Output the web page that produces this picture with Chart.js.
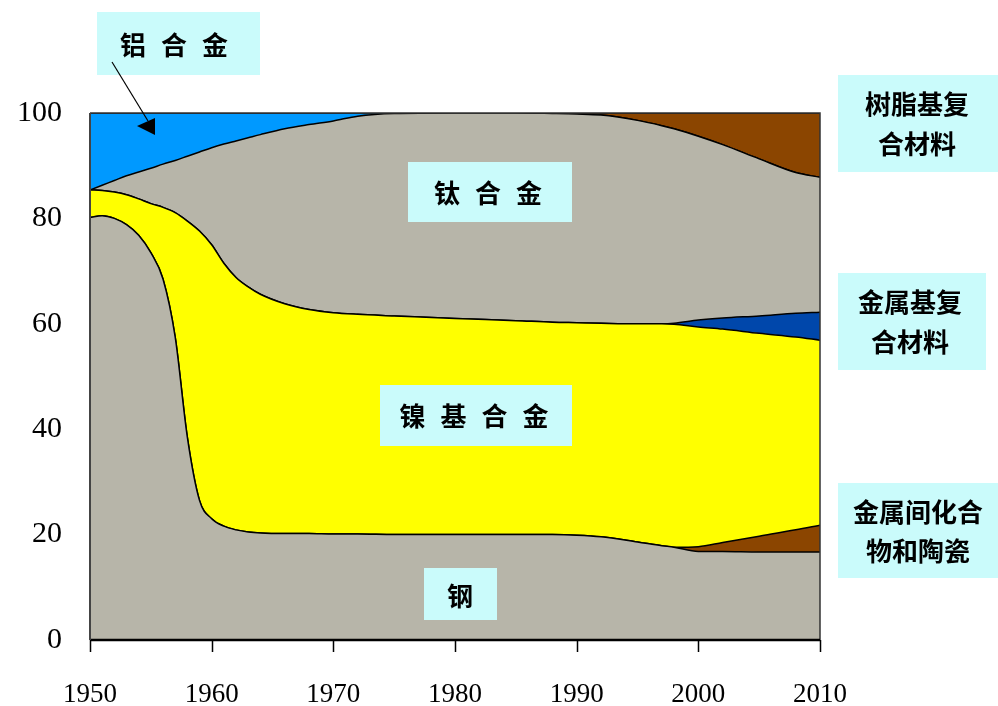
<!DOCTYPE html>
<html>
<head>
<meta charset="utf-8">
<script src="https://cdn.jsdelivr.net/npm/chart.js@4/dist/chart.umd.min.js"></script>
<style>
  html, body { margin: 0; padding: 0; background: #ffffff; }
  #wrap { position: relative; width: 998px; height: 706px; }
</style>
</head>
<body>
<div id="wrap"><canvas id="c" width="998" height="706"></canvas></div>
<script>
// ---- data (shares, %, stacked bottom -> top) ----
const years = [1950,1951,1952,1953,1954,1955,1956,1957,1958,1959,1960,1961,1962,1963,1964,1966,1968,1970,1972,1975,1980,1985,1988,1990,1992,1995,1997,1998,2000,2002,2005,2008,2010];
const steel = [80.2,80.5,80.0,78.8,76.8,73.5,68.5,57.5,38.5,26.5,23.0,21.6,20.9,20.5,20.3,20.2,20.2,20.1,20.1,20.0,20.0,20.0,20.0,19.9,19.6,18.6,17.9,17.6,16.8,16.8,16.7,16.7,16.7];
const intermetallic = [0,0,0,0,0,0,0,0,0,0,0,0,0,0,0,0,0,0,0,0,0,0,0,0,0,0,0,0,0.9,1.7,3.0,4.2,5.1];
const nickel = [5.2,4.8,5.0,5.7,6.9,9.3,13.6,23.6,41.0,51.1,52.0,49.9,47.9,46.5,45.3,43.6,42.5,42.0,41.7,41.5,41.0,40.6,40.3,40.3,40.5,41.4,42.1,42.3,41.7,40.5,38.5,36.6,35.1];
const metalMatrix = [0,0,0,0,0,0,0,0,0,0,0,0,0,0,0,0,0,0,0,0,0,0,0,0,0,0,0,0.2,1.3,2.1,3.3,4.5,5.3];
const titanium = [0,1.0,2.2,3.6,5.1,6.7,8.2,9.9,12.3,15.0,18.4,22.6,25.9,28.3,30.3,33.2,35.1,36.4,37.6,38.4,39.0,39.4,39.6,39.6,39.5,38.6,37.6,36.9,34.9,32.9,29.8,26.7,25.6];
const aluminum = [14.6,13.7,12.8,11.9,11.2,10.5,9.7,9.0,8.2,7.4,6.6,5.9,5.3,4.7,4.1,3.0,2.2,1.5,0.6,0.1,0,0,0,0,0,0,0,0,0,0,0,0,0];
const resin = [0,0,0,0,0,0,0,0,0,0,0,0,0,0,0,0,0,0,0,0,0,0,0.1,0.2,0.4,1.4,2.4,3.0,4.4,6.0,8.7,11.3,12.2];
const xTicks = [1950,1960,1970,1980,1990,2000,2010];
const yTicks = [0,20,40,60,80,100];

const GRAY = '#B7B5A9';
const BROWN = '#8B4500';
const YELLOW = '#FFFF00';
const DBLUE = '#0047AB';
const LBLUE = '#0099FF';
const CYAN = '#CAFBFB';

function ds(label, vals, color, fill) {
  return {
    label: label,
    data: years.map((y, i) => ({ x: y, y: vals[i] })),
    backgroundColor: color,
    borderColor: '#000000',
    borderWidth: 1.5,
    pointRadius: 0,
    fill: fill,
    cubicInterpolationMode: 'monotone'
  };
}

const annotations = {
  id: 'annotations',
  afterDraw(chart) {
    const ctx = chart.ctx;
    const a = chart.chartArea;
    const xs = chart.scales.x;
    ctx.save();
    // plot frame
    ctx.strokeStyle = '#333333';
    ctx.lineWidth = 1.5;
    ctx.beginPath();
    ctx.moveTo(a.left, a.top); ctx.lineTo(a.right, a.top); ctx.lineTo(a.right, a.bottom);
    ctx.stroke();
    ctx.strokeStyle = '#000000';
    ctx.lineWidth = 2.5;
    ctx.beginPath();
    ctx.moveTo(a.left, a.bottom); ctx.lineTo(a.right, a.bottom);
    ctx.stroke();
    // x tick marks
    ctx.lineWidth = 1.5;
    ctx.beginPath();
    xTicks.forEach(v => {
      const px = Math.round(xs.getPixelForValue(v)) + 0.5;
      ctx.moveTo(px, a.bottom); ctx.lineTo(px, a.bottom + 12);
    });
    ctx.stroke();
    ctx.lineWidth = 2;
    ctx.strokeStyle = '#444444';
    ctx.beginPath();
    ctx.moveTo(a.left, a.top); ctx.lineTo(a.left, a.bottom);
    ctx.stroke();

    const font = 'bold 26px "Noto Sans CJK SC"';
    ctx.font = font;
    ctx.textBaseline = 'middle';
    ctx.fillStyle = '#000000';

    function box(x, y, w, h) {
      ctx.fillStyle = CYAN;
      ctx.fillRect(x, y, w, h);
      ctx.fillStyle = '#000000';
    }
    function spaced(text, cx, cy, gap) {
      const chars = Array.from(text);
      const widths = chars.map(c => ctx.measureText(c).width);
      const total = widths.reduce((s, w) => s + w, 0) + gap * (chars.length - 1);
      let x = cx - total / 2;
      ctx.textAlign = 'left';
      chars.forEach((c, i) => { ctx.fillText(c, x, cy); x += widths[i] + gap; });
    }
    function centered(text, cx, cy) {
      ctx.textAlign = 'center';
      ctx.fillText(text, cx, cy);
    }

    box(97, 12, 163, 63);   spaced('铝合金', 174, 45, 15);
    box(408, 162, 164, 60); spaced('钛合金', 488, 193, 15);
    box(380, 385, 192, 61); spaced('镍基合金', 474, 416, 15);
    box(424, 568, 73, 52);  centered('钢', 460, 596);
    box(838, 75, 160, 97);  centered('树脂基复', 917, 104); centered('合材料', 917, 144);
    box(838, 273, 148, 97); centered('金属基复', 910, 302); centered('合材料', 910, 342);
    box(838, 483, 160, 95); centered('金属间化合', 918, 512); centered('物和陶瓷', 918, 551);

    // arrow
    ctx.strokeStyle = '#000000';
    ctx.lineWidth = 1.2;
    ctx.beginPath();
    ctx.moveTo(112, 62); ctx.lineTo(148, 121);
    ctx.stroke();
    ctx.beginPath();
    ctx.moveTo(137, 126); ctx.lineTo(155, 118); ctx.lineTo(155, 135); ctx.closePath();
    ctx.fillStyle = '#000000';
    ctx.fill();
    ctx.restore();
  }
};

new Chart(document.getElementById('c'), {
  type: 'line',
  data: {
    datasets: [
      ds('钢', steel, GRAY, 'origin'),
      ds('金属间化合物和陶瓷', intermetallic, BROWN, '-1'),
      ds('镍基合金', nickel, YELLOW, '-1'),
      ds('金属基复合材料', metalMatrix, DBLUE, '-1'),
      ds('钛合金', titanium, GRAY, '-1'),
      ds('铝合金', aluminum, LBLUE, '-1'),
      ds('树脂基复合材料', resin, BROWN, '-1')
    ]
  },
  options: {
    responsive: false,
    animation: false,
    layout: { padding: { left: 0, right: 178, top: 113, bottom: 0 } },
    plugins: { legend: { display: false }, tooltip: { enabled: false } },
    scales: {
      x: {
        type: 'linear',
        min: 1950, max: 2010,
        afterFit(s) { s.height = 66; },
        afterBuildTicks(s) { s.ticks = xTicks.map(v => ({ value: v })); },
        grid: { display: false, drawOnChartArea: false, drawTicks: true, tickLength: 12 },
        border: { display: false },
        ticks: {
          color: '#000000',
          font: { family: '"Liberation Serif", "Times New Roman", serif', size: 27 },
          padding: 27,
          maxRotation: 0,
          autoSkip: false,
          callback: v => String(v)
        }
      },
      y: {
        stacked: true,
        min: 0, max: 100,
        afterFit(s) { s.width = 90; },
        afterBuildTicks(s) { s.ticks = yTicks.map(v => ({ value: v })); },
        grid: { display: false, drawTicks: false },
        border: { display: false },
        ticks: {
          color: '#000000',
          font: { family: '"Liberation Serif", "Times New Roman", serif', size: 30 },
          padding: 28,
          callback: v => String(v)
        }
      }
    }
  },
  plugins: [{
    id: 'bg',
    beforeDraw(chart) {
      const a = chart.chartArea;
      chart.ctx.save();
      chart.ctx.fillStyle = GRAY;
      chart.ctx.fillRect(a.left, a.top, a.right - a.left, a.bottom - a.top);
      chart.ctx.restore();
    }
  }, annotations]
});
</script>
</body>
</html>
